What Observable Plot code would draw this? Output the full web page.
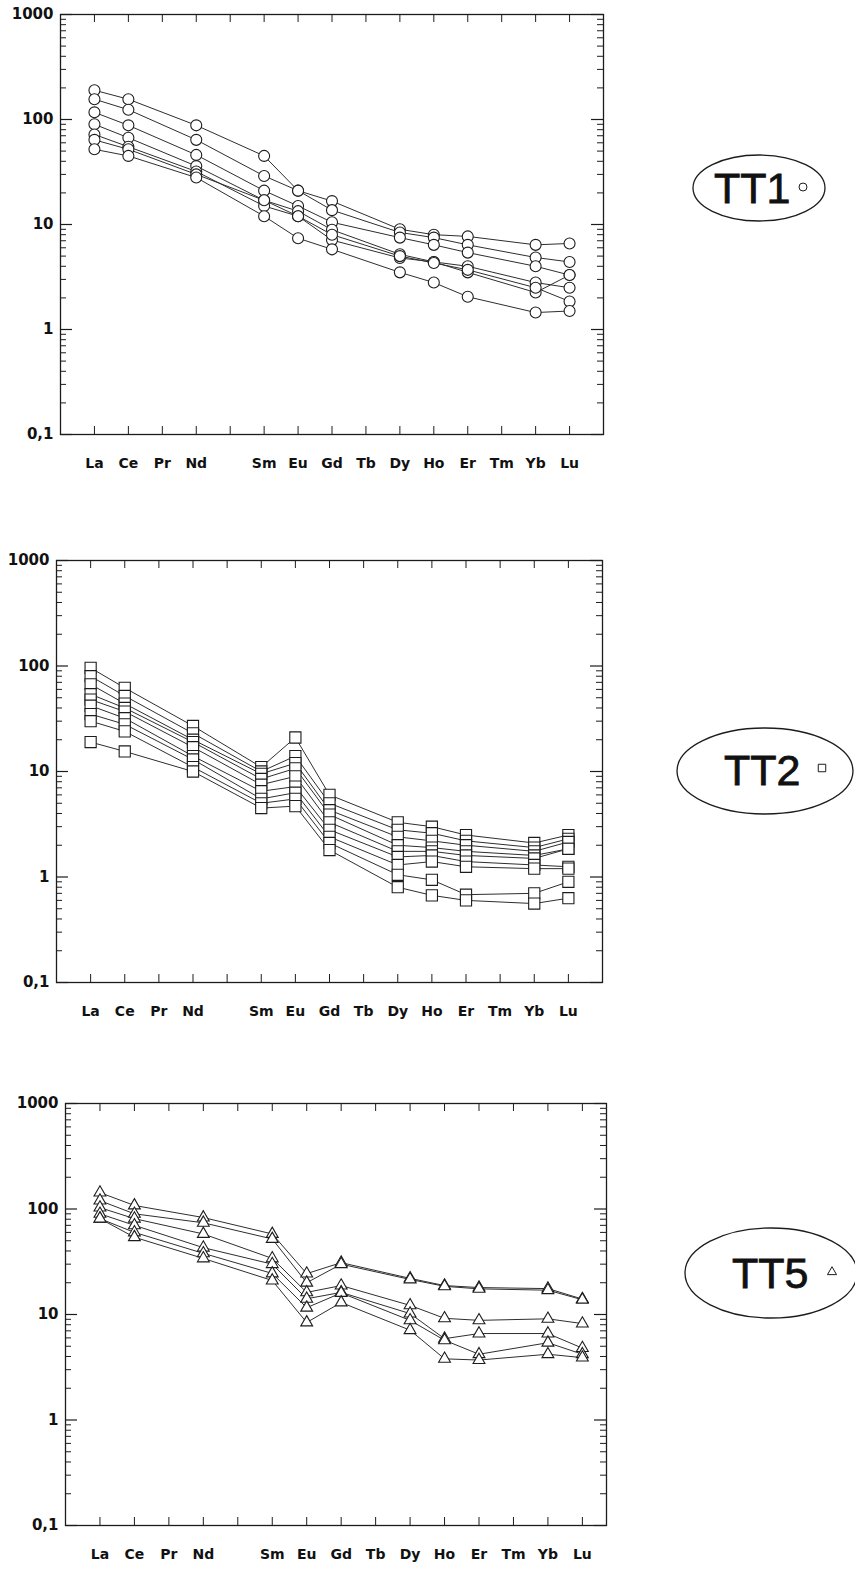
<!DOCTYPE html>
<html>
<head>
<meta charset="utf-8">
<script src="https://cdn.jsdelivr.net/npm/d3@7"></script>
<script src="https://cdn.jsdelivr.net/npm/@observablehq/plot@0.6"></script>
<style>
  body { margin: 0; background: #fff; }
  #page { position: relative; width: 855px; height: 1569px; overflow: hidden; background: #fff; }
  #page > svg { position: absolute; left: 0; }
</style>
</head>
<body>
<div id="page"></div>
<script>
// Chondrite-normalised REE patterns, three groups of samples.
const elements   = ["La","Ce","Pr","Nd","Pm","Sm","Eu","Gd","Tb","Dy","Ho","Er","Tm","Yb","Lu"];
const tickLabels = ["La","Ce","Pr","Nd","","Sm","Eu","Gd","Tb","Dy","Ho","Er","Tm","Yb","Lu"];
const analysed   = ["La","Ce","Nd","Sm","Eu","Gd","Dy","Ho","Er","Yb","Lu"];
const yLabels    = [0.1, 1, 10, 100, 1000];

// TT1 samples (circles), values in analysed order
const tt1 = [
  [190, 156, 88, 45, 21,   16.7, 9.0, 8.0, 7.7, 6.4, 6.6],
  [156, 124, 64, 29, 21,   13.7, 8.4, 7.5, 6.4, 4.85, 4.4],
  [117,  88, 46, 21, 15,   10.5, 7.5, 6.4, 5.4, 4.0, 3.3],
  [ 90,  67, 36, 17, 13.4,  8.9, 5.2, 4.4, 4.0, 2.8, 2.5],
  [ 72,  55, 32, 15, 12,    7.1, 4.8, 4.4, 3.5, 2.25, 3.3],
  [ 64,  52, 30, 17, 12,    8.0, 5.0, 4.3, 3.7, 2.5, 1.85],
  [ 52,  45, 28, 12,  7.4,  5.8, 3.5, 2.8, 2.05, 1.45, 1.5]
];

// TT2 samples (squares)
const tt2 = [
  [96, 62, 27, 11,  21,  6.0, 3.3, 3.0, 2.5, 2.1, 2.5],
  [80, 52, 23, 10,  14,  5.0, 2.8, 2.6, 2.2, 1.9, 2.3],
  [67, 44, 20, 9.5, 12,  4.3, 2.4, 2.2, 2.0, 1.75, 2.15],
  [54, 40, 19, 8.5, 10.7, 3.9, 2.0, 1.9, 1.75, 1.6, 1.85],
  [48, 37, 17, 7.5, 9,   3.3, 1.75, 1.75, 1.6, 1.5, 1.85],
  [42, 32, 14, 6.5, 7.2, 2.8, 1.55, 1.6, 1.4, 1.3, 1.25],
  [35, 28, 13, 5.5, 6.3, 2.4, 1.3, 1.4, 1.25, 1.2, 1.2],
  [30, 24, 11, 5,   5.5, 2.1, 1.05, 0.94, 0.68, 0.7, 0.9],
  [19, 15.5, 10, 4.5, 4.7, 1.8, 0.8, 0.67, 0.6, 0.56, 0.63]
];

// TT5 samples (triangles)
const tt5 = [
  [143, 108, 83, 58, 24.4, 31, 22,   18.8, 18,  17.6, 14],
  [120,  90, 74, 52, 20,   30, 21.5, 18.5, 17.5, 17,  13.8],
  [103,  81, 58, 34, 16.2, 18.8, 12.2, 9.2, 8.8, 9.1, 8.2],
  [ 90,  70, 43, 30, 14.1, 16.2, 10.2, 5.9, 6.6, 6.6, 4.8],
  [ 81,  60, 38, 24.5, 11.6, 16, 8.8, 5.7, 4.2, 5.4, 4.2],
  [ 81,  54, 34, 21, 8.4,  13,  7.1, 3.8, 3.7, 4.2, 3.9]
];

function toRows(samples) {
  return samples.flatMap((vals, i) =>
    vals.map((v, j) => ({sample: i, element: analysed[j], pos: elements.indexOf(analysed[j]) + 1, value: v})));
}

const positions = d3.range(1, elements.length + 1);
const minorTicks = [];
for (const e of [0.1, 1, 10, 100]) for (let k = 2; k <= 9; k++) minorTicks.push(+(k * e).toPrecision(3));

function panel({samples, symbol, r, left, right, top, bottom, xMax}) {
  const marginTop = 14, marginBottom = 50;
  const width = right + 14;
  const H = bottom - top, W = right - left;
  const height = marginTop + H + marginBottom;
  const ink = "#1c1c1c";
  const rows = toRows(samples);
  const svg = Plot.plot({
    width, height,
    marginLeft: left, marginRight: width - right, marginTop, marginBottom,
    x: {domain: [0, xMax], axis: null},
    y: {type: "log", domain: [0.1, 1000], axis: null},
    style: {background: "transparent", color: ink},
    marks: [
      Plot.frame({stroke: ink, strokeWidth: 1.3}),
      // inward ticks on all four sides
      Plot.tickX(positions, {x: d => d, insetBottom: H - 8, strokeWidth: 1}),
      Plot.tickX(positions, {x: d => d, insetTop: H - 8, strokeWidth: 1}),
      Plot.tickY(yLabels, {y: d => d, insetRight: W - 12, strokeWidth: 1.2}),
      Plot.tickY(minorTicks, {y: d => d, insetRight: W - 6, strokeWidth: 1}),
      Plot.tickY(yLabels, {y: d => d, insetLeft: W - 12, strokeWidth: 1.2}),
      Plot.tickY(minorTicks, {y: d => d, insetLeft: W - 6, strokeWidth: 1}),
      Plot.axisY({ticks: yLabels, anchor: "left", tickSize: 0, tickPadding: 7, label: null,
        tickFormat: d => d < 1 ? "0,1" : String(d),
        fontSize: 15, fontWeight: "bold", fontFamily: "DejaVu Sans", fill: "#111"}),
      Plot.axisX({ticks: positions, anchor: "bottom", tickSize: 0, tickPadding: 24, label: null,
        tickFormat: d => tickLabels[d - 1],
        fontSize: 14, fontWeight: "bold", fontFamily: "DejaVu Sans", fill: "#111"}),
      Plot.line(rows, {x: "pos", y: "value", z: "sample", stroke: "#2e2e2e", strokeWidth: 1}),
      Plot.dot(rows, {x: "pos", y: "value", symbol, r, fill: "white", stroke: ink, strokeWidth: 1.1})
    ]
  });
  svg.style.top = (top - marginTop) + "px";
  return svg;
}

const page = document.getElementById("page");
page.append(
  panel({samples: tt1, symbol: "circle",   r: 5.5, left: 60, right: 603, top: 14,   bottom: 434,  xMax: 16}),
  panel({samples: tt2, symbol: "square",   r: 6.3, left: 56, right: 602, top: 560,  bottom: 982,  xMax: 16}),
  panel({samples: tt5, symbol: "triangle", r: 4.4, left: 65, right: 606, top: 1103, bottom: 1525, xMax: 15.7})
);

// Group labels in ellipses, with the symbol used for each group
const groups = [
  {name: "TT1", cx: 759, cy: 188,  rx: 66, ry: 33, tx: 714, ty: 203,  sym: d3.symbolCircle,   sx: 803, sy: 187,  size: 50},
  {name: "TT2", cx: 765, cy: 771,  rx: 88, ry: 43, tx: 724, ty: 785,  sym: d3.symbolSquare,   sx: 822, sy: 768,  size: 56},
  {name: "TT5", cx: 771, cy: 1273, rx: 86, ry: 45, tx: 732, ty: 1288, sym: d3.symbolTriangle, sx: 832, sy: 1272, size: 36}
];
const legend = d3.create("svg").attr("width", 855).attr("height", 1569).style("top", "0px");
const g = legend.selectAll("g").data(groups).join("g");
g.append("ellipse")
  .attr("cx", d => d.cx).attr("cy", d => d.cy).attr("rx", d => d.rx).attr("ry", d => d.ry)
  .attr("fill", "none").attr("stroke", "#1c1c1c").attr("stroke-width", 1.3);
g.append("text")
  .attr("x", d => d.tx).attr("y", d => d.ty)
  .attr("font-family", "Liberation Sans, Arial, sans-serif").attr("font-size", 43)
  .attr("fill", "#111").attr("stroke", "#111").attr("stroke-width", 0.8)
  .text(d => d.name);
g.append("path")
  .attr("transform", d => `translate(${d.sx},${d.sy})`)
  .attr("d", d => d3.symbol(d.sym, d.size)())
  .attr("fill", "white").attr("stroke", "#1c1c1c").attr("stroke-width", 1);
page.append(legend.node());
</script>
</body>
</html>
